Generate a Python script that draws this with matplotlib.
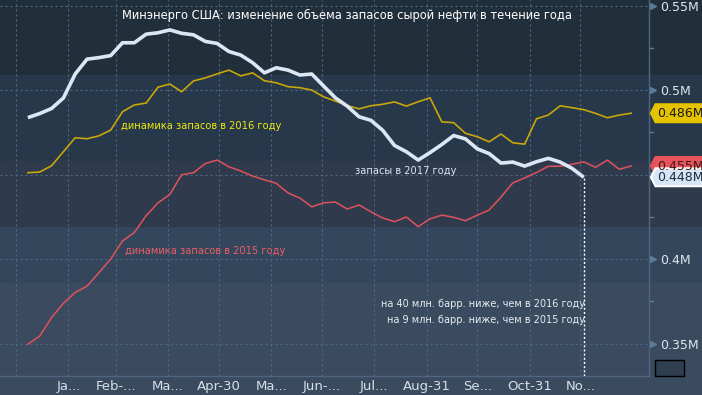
import matplotlib
matplotlib.use("Agg")
import matplotlib.pyplot as plt
from matplotlib.patches import Rectangle, Polygon
from matplotlib.transforms import blended_transform_factory

# weekly crude oil stocks, million barrels
stocks_2017 = [483.7, 486.1, 489.1, 495.3, 509.5, 518.3, 519.2, 520.4, 528.0, 528.0,
               533.1, 533.9, 535.6, 533.6, 532.7, 528.8, 527.6, 522.8, 520.7, 516.2,
               510.2, 513.2, 511.8, 508.9, 509.5, 502.4, 495.4, 490.5, 484.2, 482.1,
               476.2, 467.2, 463.5, 458.6, 463.0, 467.8, 473.1, 471.1, 465.2, 462.4,
               456.8, 457.4, 455.0, 457.6, 459.6, 457.4, 453.7, 448.4]
stocks_2016 = [451.1, 451.5, 455.2, 463.5, 471.8, 471.2, 472.9, 476.3, 487.2, 491.2,
               492.3, 501.7, 503.6, 499.0, 505.4, 507.2, 509.6, 511.8, 508.4, 510.2,
               505.5, 504.3, 502.0, 501.4, 500.0, 496.0, 493.5, 490.8, 488.9, 490.7,
               491.6, 493.0, 490.5, 493.1, 495.4, 481.2, 480.7, 474.4, 472.4, 469.4,
               474.0, 468.8, 468.0, 483.0, 485.2, 490.7, 489.6, 488.4, 486.2, 483.6,
               485.2, 486.3]
stocks_2015 = [349.6, 354.4, 365.4, 373.8, 380.2, 384.0, 391.9, 400.0, 410.7, 415.7,
               425.7, 433.3, 438.2, 449.9, 451.1, 456.5, 458.6, 454.6, 452.1, 449.1,
               446.9, 444.8, 439.1, 436.1, 430.9, 433.3, 433.7, 429.6, 432.0, 428.0,
               424.3, 422.1, 424.9, 419.2, 423.8, 426.0, 424.7, 422.7, 426.0, 429.0,
               436.7, 445.1, 448.0, 451.2, 454.9, 454.9, 456.1, 457.5, 454.3, 458.6,
               453.1, 455.1]

# days after Dec 31 of the previous year
month_ends = [31, 59, 90, 120, 151, 181, 212, 243, 273, 304, 334]
month_labels = ["Ja...", "Feb-...", "Ma...", "Apr-30", "Ma...", "Jun-...",
                "Jul...", "Aug-31", "Se...", "Oct-31", "No..."]
y_ticks = [350, 400, 450, 500, 550]
y_labels = ["0.35M", "0.4M", "", "0.5M", "0.55M"]

days_2017 = [7 + 7 * i for i in range(len(stocks_2017))]
days_full = [7 + 7 * i for i in range(len(stocks_2016))]

fig = plt.figure(figsize=(7.02, 3.95), dpi=100)
fig.patch.set_facecolor("#3a4a5f")

# horizontal background bands (figure coords)
bands = [(0.810, 1.0, "#212f3b"), (0.592, 0.810, "#27384a"),
         (0.425, 0.592, "#303a4d"), (0.284, 0.425, "#33465b"),
         (0.0, 0.284, "#3a4a5f")]
for y0, y1, c in bands:
    fig.patches.append(Rectangle((0, y0), 1, y1 - y0, transform=fig.transFigure,
                                 facecolor=c, edgecolor="none", zorder=-10))

ax = fig.add_axes([0, 19 / 395, 649 / 702, 376 / 395])
ax.set_facecolor("none")
ax.set_xlim(-9.5, 374.6)
ax.set_ylim(330.8, 553.3)

# grid
for d in [0] + month_ends:
    ax.axvline(d, color="#4d6885", lw=0.8, ls=(0, (2, 2.5)), zorder=1)
for v in y_ticks:
    ax.axhline(v, color="#4d6885", lw=0.8, ls=(0, (2, 2.5)), zorder=1)

ax.plot(days_full, stocks_2015, color="#e0525c", lw=1.1, zorder=3)
ax.plot(days_full, stocks_2016, color="#c9a70a", lw=1.2, zorder=3)
ax.plot(days_2017, stocks_2017, color="#dbe7f4", lw=2.6, zorder=4,
        solid_capstyle="butt")

# white dotted marker line at the last 2017 value
ax.plot([days_2017[-1]] * 2, [330.8, stocks_2017[-1]], color="white",
        lw=1, ls=(0, (1.5, 1.5)), zorder=5)

for s in ["left", "top"]:
    ax.spines[s].set_visible(False)
for s in ["right", "bottom"]:
    ax.spines[s].set_color("#4f6680")
    ax.spines[s].set_linewidth(1)

ax.set_xticks(month_ends)
ax.set_xticklabels(month_labels)
ax.tick_params(axis="x", length=0, pad=3, labelsize=9.5, labelcolor="#d6dfea")
ax.yaxis.tick_right()
ax.set_yticks(y_ticks)
ax.set_yticklabels(y_labels)
ax.tick_params(axis="y", length=0, pad=8, labelsize=9, labelcolor="#dfe6ee")

bt = blended_transform_factory(ax.transAxes, ax.transData)
ax.plot([1.006] * 5, y_ticks, ls="none", marker=">", ms=5, color="#5d7c9a",
        transform=bt, clip_on=False)
for v in [375, 425, 475, 525]:
    ax.plot([1.0, 1.006], [v, v], color="#5d7c9a", lw=1, transform=bt,
            clip_on=False)

# value badges on the right axis
def badge(v, face, edge, text, tcolor):
    x0, x1, h = 1.003, 1.09, 5.3
    pts = [(x0, v), (x0 + 0.007, v + h), (x1, v + h), (x1, v - h), (x0 + 0.007, v - h)]
    ax.add_patch(Polygon(pts, closed=True, transform=bt, facecolor=face,
                         edgecolor=edge, lw=1.5, clip_on=False, zorder=10))
    ax.text(1.013, v - 0.3, text, transform=bt, fontsize=9, color=tcolor,
            va="center", ha="left", clip_on=False, zorder=11)

badge(486.3, "#e6c300", "#e6c300", "0.486M", "#1a1a1a")
badge(455.1, "#e8525a", "#e8525a", "0.455M", "#3a1a1a")
badge(448.4, "#d6e6f6", "white", "0.448M", "#1c2a3a")

# small chart-type button
fig.patches.append(Rectangle((655 / 702, 19 / 395), 29 / 702, 16 / 395,
                             transform=fig.transFigure, facecolor="#2f3e51",
                             edgecolor="black", lw=1, zorder=5))

ax.text(62.7, 544.4, "Минэнерго США: изменение объема запасов сырой нефти в течение года",
        color="white", fontsize=8.3, va="center", ha="left")
ax.text(62.1, 478.7, "динамика запасов в 2016 году", color="#eeea10",
        fontsize=7.1, va="center", ha="left")
ax.text(200.6, 452.1, "запасы в 2017 году", color="#d8e6f4",
        fontsize=7.1, va="center", ha="left")
ax.text(64.5, 404.7, "динамика запасов в 2015 году", color="#ec5e68",
        fontsize=7.1, va="center", ha="left")
ax.text(336.7, 373.4, "на 40 млн. барр. ниже, чем в 2016 году", color="#e6ecf2",
        fontsize=7.0, va="center", ha="right")
ax.text(336.7, 363.9, "на 9 млн. барр. ниже, чем в 2015 году", color="#e6ecf2",
        fontsize=7.0, va="center", ha="right")

fig.savefig("out.png", dpi=100, facecolor=fig.get_facecolor())
